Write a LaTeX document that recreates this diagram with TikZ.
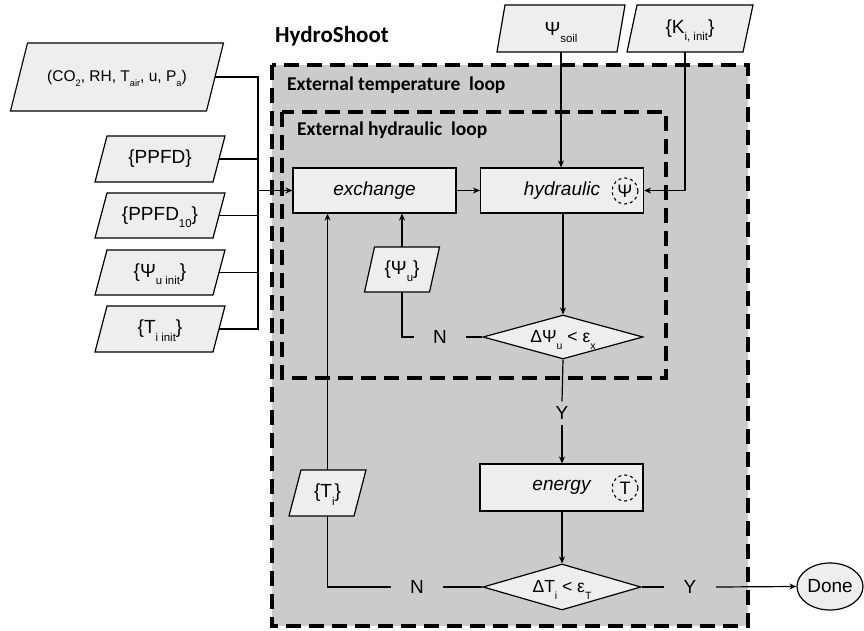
\documentclass[tikz,border=0pt]{standalone}
\usepackage{fontspec}
\usepackage{graphicx}
\setmainfont{Liberation Sans}
\newfontfamily\titlefont{Carlito}
\usetikzlibrary{arrows.meta,shapes.geometric,calc}
\definecolor{bggray}{HTML}{CBCBCB}
\definecolor{boxfill}{HTML}{EEEEEE}
\newcommand\sbx[1]{\smash{\raisebox{-0.38em}{\scalebox{0.6}{#1}}}}
\newcommand\fsz[1]{\fontsize{#1}{#1}\selectfont}
\newcommand{\pgm}[7]{%
  \filldraw[pgshape] ({#2-#4/2-#6/2},{#3+#5/2}) -- ({#2+#4/2-#6/2},{#3+#5/2}) -- ({#2+#4/2+#6/2},{#3-#5/2}) -- ({#2-#4/2+#6/2},{#3-#5/2}) -- cycle;
  \node[pgtext, minimum width=#4, minimum height=#5] (#1) at (#2,#3) {#7};}
\tikzset{
  pgshape/.style={draw=black, fill=boxfill, line width=1.2pt, line join=miter},
  pgtext/.style={inner sep=0pt, font=\fsz{19}},
  procbox/.style={draw, fill=boxfill, line width=1.2pt, minimum width=163, minimum height=45, inner sep=0pt, font=\fsz{19}\itshape},
  decbox/.style={diamond, draw, fill=boxfill, line width=1.2pt, inner sep=0pt, aspect=3.6, font=\fsz{17.5}},
  lbl/.style={fill=bggray, inner sep=0pt, minimum width=52, minimum height=23, font=\fsz{19}},
  conn/.style={line width=1.2pt},
  arr/.style={conn, -{Stealth[length=7pt,width=6pt]}},
  loopbox/.style={draw, line width=4pt, dash pattern=on 15pt off 8pt},
  statecirc/.style={circle, draw, dashed, line width=1.1pt, minimum size=26, inner sep=0pt, font=\fsz{18}},
  titletext/.style={font=\titlefont\bfseries\fsz{19.5}, anchor=west, inner sep=0pt},
}
\begin{document}
\begin{tikzpicture}[x=1pt,y=-1pt]
\useasboundingbox (0,0) rectangle (864,631);

% loop boxes
\draw[loopbox, fill=bggray] (272,65) rectangle (748,626);
\draw[loopbox] (282,112) rectangle (666,378);

\node[titletext, font=\titlefont\bfseries\fsz{23}] (ttl) at (275,36) {HydroShoot};
\node[titletext] (tloop) at (287,85) {External temperature\ \ loop};
\node[titletext] (hloop) at (297,130) {External hydraulic\ \ loop};

% inputs
\pgm{co2}{117}{77}{196}{68}{17}{\fsz{15.5}(CO\sbx{2}, RH, T\sbx{air}, u, P\sbx{a})}
\pgm{ppfd}{160}{159}{118}{46}{12}{\{PPFD\}}
\pgm{ppfdt}{160}{215.5}{118}{45}{12}{\{PPFD\sbx{10}\}}
\pgm{psiinit}{160}{272.5}{118}{45}{12}{\{Ψ\sbx{u init}\}}
\pgm{tinit}{160}{329}{118}{46}{12}{\{T\sbx{i init}\}}
\pgm{psisoil}{561}{28.5}{120}{47}{8}{Ψ\sbx{soil}}
\pgm{kinit}{690}{28.5}{116}{47}{10}{\{K\sbx{i, init}\}}
\pgm{psiu}{402}{269.5}{65}{45}{10}{\{Ψ\sbx{u}\}}
\pgm{ti}{327.5}{493}{65}{46}{12}{\{T\sbx{i}\}}

% processes
\node[procbox] (exchange) at (374.5,190.5) {exchange};
\node[procbox] (hydraulic) at (562,190.5) {hydraulic};
\node[procbox, minimum height=47] (energy) at (561.5,487.5) {energy};
\node[statecirc] (cpsi) at (625,191) {Ψ};
\node[statecirc] (ctemp) at (625,488) {T};

% decisions
\node[decbox, minimum width=160, minimum height=44] (d1) at (563,337) {ΔΨ\sbx{u} < ε\sbx{x}};
\node[decbox, minimum width=158, minimum height=46] (d2) at (562,587) {ΔT\sbx{i} < ε\sbx{T}};
\node[ellipse, draw, fill=boxfill, line width=1.2pt, minimum width=66, minimum height=47, inner sep=0pt, font=\fsz{19}] (done) at (830,586.5) {Done};

% labels
\node[lbl] (n1) at (440,337) {N};
\node[lbl] (y1) at (562,413) {Y};
\node[lbl] (n2) at (417,587) {N};
\node[lbl] (y2) at (690,587) {Y};

% input bus
\coordinate (bus) at (258,0);
\draw[conn] (co2.east) -| (bus |- tinit.east) -- (tinit.east);
\draw[conn] (ppfd.east) -- (ppfd.east -| bus);
\draw[conn] (ppfdt.east) -- (ppfdt.east -| bus);
\draw[conn] (psiinit.east) -- (psiinit.east -| bus);
\draw[arr] (bus |- exchange.west) -- (exchange.west);

% connectors
\draw[arr] (exchange.east) -- (hydraulic.west);
\draw[arr] (psisoil.south) -- (psisoil.south |- hydraulic.north);
\draw[arr] ([xshift=-5pt]kinit.south) |- (hydraulic.east);
\draw[arr] (hydraulic.south -| d1.north) -- (d1.north);
\draw[arr] (psiu.north) -- (psiu.north |- exchange.south);
\draw[conn] (psiu.south) |- (n1.west);
\draw[conn] (n1.east) -- (d1.west);
\draw[conn] (d1.south) -- (y1.north);
\draw[arr] (y1.south) -- (y1.south |- energy.north);
\draw[arr] (energy.south -| d2.north) -- (d2.north);
\draw[conn] (d2.west) -- (n2.east);
\draw[conn] (n2.west) -| (ti.south);
\draw[arr] (ti.north) -- (ti.north |- exchange.south);
\draw[conn] (d2.east) -- (y2.west);
\draw[arr] (y2.east) -- (done.west);
\end{tikzpicture}
\end{document}
